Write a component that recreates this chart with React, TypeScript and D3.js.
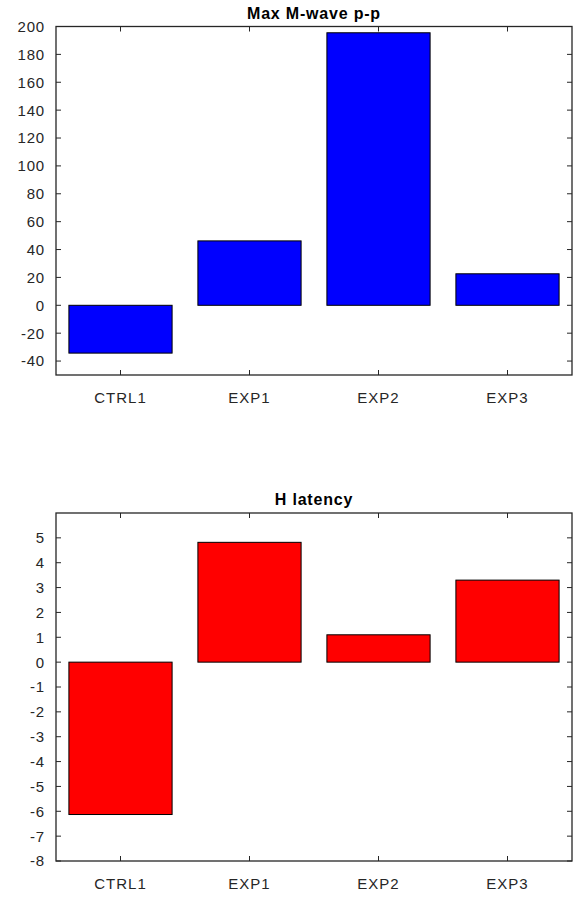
import React from "react";
import * as d3 from "d3";

const categories = ["CTRL1", "EXP1", "EXP2", "EXP3"];
const mwaveValues = [-34.3, 46.2, 195.5, 22.6];
const hLatencyValues = [-6.13, 4.82, 1.1, 3.3];
const mwaveTicks = [-40, -20, 0, 20, 40, 60, 80, 100, 120, 140, 160, 180, 200];
const hLatencyTicks = [-8, -7, -6, -5, -4, -3, -2, -1, 0, 1, 2, 3, 4, 5];

const AXIS = "#262626";
const FONT = "'Liberation Sans', Arial, sans-serif";

type PanelProps = {
  title: string;
  values: number[];
  domain: [number, number];
  ticks: number[];
  color: string;
  top: number;
  bottom: number;
  titleY: number;
};

function Panel({ title, values, domain, ticks, color, top, bottom, titleY }: PanelProps) {
  const left = 56;
  const right = 572;
  const x = d3.scaleLinear().domain([0.5, categories.length + 0.5]).range([left, right]);
  const y = d3.scaleLinear().domain(domain).range([bottom, top]);
  const bw = (x(1.4) - x(0.6));
  const tl = 5;
  return (
    <g>
      {values.map((v, i) => {
        const y0 = y(0);
        const y1 = y(v);
        return (
          <rect
            key={i}
            x={x(i + 1) - bw / 2}
            y={Math.min(y0, y1)}
            width={bw}
            height={Math.abs(y1 - y0)}
            fill={color}
            stroke="#000"
            strokeWidth={1}
          />
        );
      })}
      {/* ticks */}
      {ticks.map((t) => (
        <g key={t}>
          <line x1={left} x2={left + tl} y1={y(t)} y2={y(t)} stroke={AXIS} />
          <line x1={right} x2={right - tl} y1={y(t)} y2={y(t)} stroke={AXIS} />
          <text
            x={45}
            y={y(t)}
            dy="0.36em"
            textAnchor="end"
            fontSize={15}
            letterSpacing={0.8}
            fill={AXIS}
            fontFamily={FONT}
          >
            {t}
          </text>
        </g>
      ))}
      {categories.map((c, i) => (
        <g key={c}>
          <line x1={x(i + 1)} x2={x(i + 1)} y1={bottom} y2={bottom - tl} stroke={AXIS} />
          <line x1={x(i + 1)} x2={x(i + 1)} y1={top} y2={top + tl} stroke={AXIS} />
          <text
            x={x(i + 1)}
            y={bottom + 28}
            textAnchor="middle"
            fontSize={15}
            letterSpacing={1}
            fill={AXIS}
            fontFamily={FONT}
          >
            {c}
          </text>
        </g>
      ))}
      <rect x={left} y={top} width={right - left} height={bottom - top} fill="none" stroke={AXIS} strokeWidth={1.3} />
      <text
        x={(left + right) / 2}
        y={titleY}
        textAnchor="middle"
        fontSize={16}
        fontWeight="bold"
        letterSpacing={0.8}
        fill="#000"
        fontFamily={FONT}
      >
        {title}
      </text>
    </g>
  );
}

export default function App() {
  return (
    <svg
      width={576}
      height={897}
      style={{ position: "absolute", left: 0, top: 0, background: "#fff" }}
    >
      <rect width={576} height={897} fill="#fff" />
      <Panel
        title="Max M-wave p-p"
        values={mwaveValues}
        domain={[-50, 200]}
        ticks={mwaveTicks}
        color="#0000ff"
        top={26.5}
        bottom={375}
        titleY={19}
      />
      <Panel
        title="H latency"
        values={hLatencyValues}
        domain={[-8, 6]}
        ticks={hLatencyTicks}
        color="#ff0000"
        top={513}
        bottom={861}
        titleY={505}
      />
    </svg>
  );
}
